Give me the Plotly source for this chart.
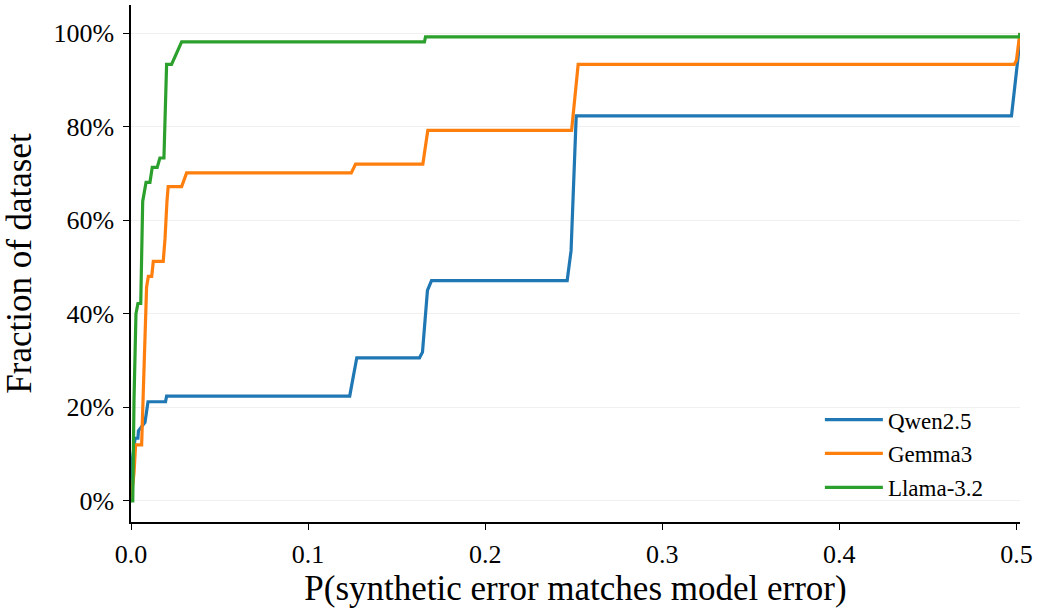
import plotly.graph_objects as go

# Step-curve vertices (x = probability, y = fraction)
qwen_x = [0.0, 0.0005, 0.0023, 0.0039, 0.0042, 0.0079, 0.0096, 0.0195, 0.0201, 0.1235, 0.1246,
          0.1268, 0.1275, 0.1629, 0.1646, 0.1674, 0.1697, 0.2463, 0.2485, 0.2514, 0.4972, 0.5011, 0.502]
qwen_y = [0.0, 0.08, 0.134, 0.134, 0.15, 0.168, 0.212, 0.212, 0.224, 0.224, 0.247,
          0.300, 0.306, 0.306, 0.318, 0.450, 0.471, 0.471, 0.535, 0.823, 0.823, 0.955, 1.0]

gemma_x = [0.0, 0.0017, 0.0026, 0.0060, 0.0088, 0.0098, 0.0117, 0.0126, 0.0182, 0.0192, 0.0203,
           0.0210, 0.0286, 0.0314, 0.1244, 0.1268, 0.1648, 0.1676, 0.2488, 0.2525, 0.4987, 0.5000,
           0.5015, 0.502]
gemma_y = [0.0, 0.06, 0.12, 0.12, 0.457, 0.48, 0.48, 0.512, 0.512, 0.56, 0.64,
           0.672, 0.672, 0.701, 0.701, 0.72, 0.72, 0.792, 0.792, 0.933, 0.933, 0.942,
           0.987, 1.0]

llama_x = [0.0, 0.0010, 0.0017, 0.0028, 0.0039, 0.0055, 0.0066, 0.0085, 0.0107, 0.0120, 0.0148,
           0.0163, 0.0186, 0.0201, 0.0229, 0.0242, 0.0267, 0.0286, 0.1657, 0.1663, 0.5015, 0.502]
llama_y = [0.0, 0.0, 0.215, 0.40, 0.422, 0.422, 0.64, 0.681, 0.681, 0.713, 0.713,
           0.733, 0.733, 0.933, 0.933, 0.944, 0.969, 0.981, 0.981, 0.992, 0.992, 1.0]

series = [
    ("Qwen2.5", qwen_x, qwen_y, "#1f77b4"),
    ("Gemma3", gemma_x, gemma_y, "#ff7f0e"),
    ("Llama-3.2", llama_x, llama_y, "#2ca02c"),
]

y_ticks = [0, 0.2, 0.4, 0.6, 0.8, 1.0]
y_tick_text = ["0%", "20%", "40%", "60%", "80%", "100%"]
x_ticks = [0.0, 0.1, 0.2, 0.3, 0.4, 0.5]
x_tick_text = ["0.0", "0.1", "0.2", "0.3", "0.4", "0.5"]

FONT = "Liberation Serif, DejaVu Serif, serif"

fig = go.Figure()
for name, xs, ys, color in series:
    fig.add_trace(go.Scatter(x=xs, y=ys, mode="lines", name=name, legendgroup=name,
                             line=dict(color=color, width=3.2)))

fig.update_layout(
    width=1039, height=609,
    margin=dict(l=131, r=19, t=5, b=87),
    plot_bgcolor="white", paper_bgcolor="white",
    font=dict(family=FONT, color="black", size=26),
    showlegend=True,
    legend=dict(x=0.965, y=0.025, xanchor="right", yanchor="bottom",
                bgcolor="rgba(255,255,255,0)", borderwidth=0,
                font=dict(size=23, family=FONT), tracegroupgap=1,
                itemwidth=58),
)
fig.update_xaxes(
    range=[0, 0.502], tickvals=x_ticks, ticktext=x_tick_text,
    showgrid=False, zeroline=False, automargin=False,
    showline=True, linecolor="black", linewidth=1.5,
    ticks="outside", ticklen=6, tickwidth=1.2, tickcolor="black",
    tickfont=dict(size=26), ticklabelstandoff=2,
    title=dict(text="P(synthetic error matches model error)", font=dict(size=35), standoff=8),
)
fig.update_yaxes(
    range=[-0.045, 1.06], tickvals=y_ticks, ticktext=y_tick_text,
    showgrid=True, gridcolor="#f0f0f0", gridwidth=1, zeroline=False, automargin=False,
    showline=True, linecolor="black", linewidth=1.5,
    ticks="outside", ticklen=6, tickwidth=1.2, tickcolor="black",
    tickfont=dict(size=26), ticklabelstandoff=4,
    title=dict(text="Fraction of dataset", font=dict(size=35), standoff=12),
)

fig.write_html("out.html", config={"displayModeBar": False},
               post_script="document.body.style.margin='0';")
